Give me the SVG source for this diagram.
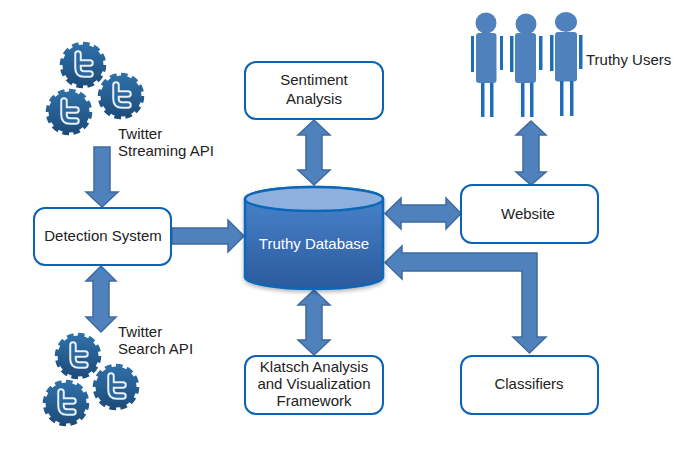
<svg xmlns="http://www.w3.org/2000/svg" xmlns:xlink="http://www.w3.org/1999/xlink" width="700" height="456" viewBox="0 0 700 456">
<style>
text{font-family:"Liberation Sans",Arial,sans-serif;font-size:15px;fill:#222}
.c{text-anchor:middle}
.box{fill:#fff;stroke:#0b63b5;stroke-width:2}
.arrow{fill:#4f81bd;stroke:#3f6a9e;stroke-width:1.5;stroke-linejoin:miter}
.p{fill:#4f81bd}
.l{fill:#1f6cb8}
</style>
<defs>
<linearGradient id="gg" gradientUnits="userSpaceOnUse" x1="0" y1="-23" x2="0" y2="23"><stop offset="0" stop-color="#2f72ab"/><stop offset="1" stop-color="#1c4a78"/></linearGradient>
<linearGradient id="db" x1="0" y1="0" x2="0" y2="1"><stop offset="0" stop-color="#4a86cf"/><stop offset="1" stop-color="#2b5a9c"/></linearGradient>
<filter id="sh" x="-10%" y="-10%" width="120%" height="125%"><feDropShadow dx="0" dy="2" stdDeviation="2" flood-color="#000" flood-opacity=".3"/></filter>
<g id="gear">
<circle r="20.500" fill="url(#gg)"/>
<circle r="21" fill="none" stroke="url(#gg)" stroke-width="4.500" pathLength="100" stroke-dasharray="5 3.330"/>
<path d="M-5-11V3Q-5 9 1 9H7M-5-2H7" fill="none" stroke="#e8eff6" stroke-width="7.500" stroke-linecap="round" stroke-linejoin="round"/>
<path d="M-5-11V3Q-5 9 1 9H7M-5-2H7" fill="none" stroke="#2a689f" stroke-width="3.500" stroke-linecap="round" stroke-linejoin="round"/>
</g>
</defs>
<rect width="700" height="456" fill="#fff"/>
<g id="connectors">
<path class="arrow" d="M94 147H110V192H118L102 207L86 192H94Z"/>
<path class="arrow" d="M172 228H228V220L244 236L228 252V244H172Z"/>
<path class="arrow" d="M314 120L330 135H322V170H330L314 185L298 170H306V135H298Z"/>
<path class="arrow" d="M314 290L330 305H322V340H330L314 355L298 340H306V305H298Z"/>
<path class="arrow" d="M385 213.500L401 198V205H446V198L461 213.500L446 229V222H401V229Z"/>
<path class="arrow" d="M531 121L546 135H539V172H546L531 185L516 172H523V135H516Z"/>
<path class="arrow" d="M101 266L116 281H109V317H116L101 332L86 317H93V281H86Z"/>
<path class="arrow" d="M385 262.500L402 246V253H537V337H546L529.500 353L513 337H522V271H402V279Z"/>
</g>
<g id="twitter-streaming">
<use xlink:href="#gear" href="#gear" transform="translate(83 65)"/>
<use xlink:href="#gear" href="#gear" transform="translate(121 96)"/>
<use xlink:href="#gear" href="#gear" transform="translate(69 112)"/>
<text x="118" y="139">Twitter</text>
<text x="118" y="156">Streaming API</text>
</g>
<g id="twitter-search">
<use xlink:href="#gear" href="#gear" transform="translate(78 356)"/>
<use xlink:href="#gear" href="#gear" transform="translate(116 387)"/>
<use xlink:href="#gear" href="#gear" transform="translate(66 403)"/>
<text x="118" y="337">Twitter</text>
<text x="118" y="354">Search API</text>
</g>
<g id="users">
<g id="user1">
<circle class="p" cx="486" cy="23" r="10.500"/><rect class="p" x="476" y="33" width="20.500" height="50" rx="3"/>
<rect class="l" x="471" y="36" width="3" height="36"/><rect class="l" x="500" y="36" width="3" height="34"/>
<rect class="l" x="481" y="83" width="3.500" height="34"/><rect class="l" x="490" y="83" width="3.500" height="34"/>
</g>
<g id="user2">
<circle class="p" cx="526" cy="24" r="10.500"/><rect class="p" x="515" y="33" width="21" height="50" rx="3"/>
<rect class="l" x="510" y="36" width="3.500" height="36"/><rect class="l" x="539" y="36" width="3.500" height="34"/>
<rect class="l" x="521" y="83" width="3.500" height="34"/><rect class="l" x="530" y="83" width="3.500" height="34"/>
</g>
<g id="user3">
<ellipse class="p" cx="566" cy="22" rx="11" ry="10"/><rect class="p" x="555" y="32" width="22" height="49.500" rx="3"/>
<rect class="l" x="550" y="35" width="3.500" height="36"/><rect class="l" x="579" y="35" width="3.500" height="34"/>
<rect class="l" x="560" y="81" width="3.500" height="35"/><rect class="l" x="570" y="81" width="3.500" height="35"/>
</g>
<text x="586" y="65">Truthy Users</text>
</g>
<g id="detection"><rect class="box" x="34" y="208" width="137" height="57" rx="11"/><text class="c" x="103" y="241">Detection System</text></g>
<g id="sentiment"><rect class="box" x="245" y="62" width="138" height="57" rx="11"/><text class="c" x="314" y="85">Sentiment</text><text class="c" x="314" y="104">Analysis</text></g>
<g id="website"><rect class="box" x="461" y="185" width="137" height="58" rx="11"/><text class="c" x="528" y="219">Website</text></g>
<g id="klatsch"><rect class="box" x="245" y="356" width="138" height="58" rx="11"/><text class="c" x="314" y="372">Klatsch Analysis</text><text class="c" x="314" y="389">and Visualization</text><text class="c" x="314" y="406">Framework</text></g>
<g id="classifiers"><rect class="box" x="461" y="356" width="137" height="58" rx="11"/><text class="c" x="529" y="389">Classifiers</text></g>
<g id="database">
<path d="M245 199A69 12 0 0 1 383 199V277A69 12 0 0 1 245 277Z" fill="url(#db)" stroke="#0b67b8" stroke-width="2.500" filter="url(#sh)"/>
<ellipse cx="314" cy="199" rx="69" ry="12" fill="#8db0de" stroke="#0b67b8" stroke-width="2.500"/>
<text class="c" x="314" y="249" style="fill:#fff">Truthy Database</text>
</g>
</svg>
